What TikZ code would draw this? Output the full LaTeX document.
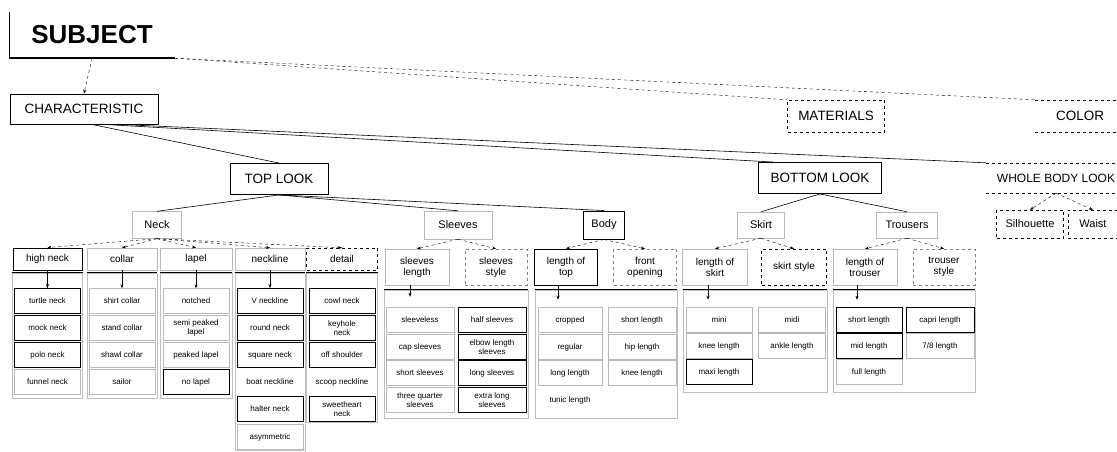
\documentclass[tikz,border=0pt]{standalone}
\usepackage{fontspec}
\setmainfont{Liberation Sans}
\usetikzlibrary{arrows.meta}

\tikzset{
  cadre/.style={draw, rectangle, line width=0.9pt, inner sep=1pt, align=center},
  clair/.style={draw=gray!55, rectangle, inner sep=1pt, align=center},
  tirets/.style={draw, dashed, rectangle, inner sep=1pt, align=center},
  titre/.style={font=\fontsize{13.5}{15}\selectfont},
  moyen/.style={font=\fontsize{11}{12}\selectfont},
  feat/.style={font=\fontsize{10}{11}\selectfont, minimum height=22pt},
  feat2/.style={font=\fontsize{10}{11}\selectfont, minimum height=36pt},
  leaf/.style={draw=gray!55, rectangle, inner sep=1pt, align=center,
    minimum width=66pt, minimum height=25pt, font=\fontsize{8}{9}\selectfont},
  leafdark/.style={leaf, draw=black, line width=0.8pt},
  leafnone/.style={leaf, draw=none},
  grp/.style={draw=gray!50, rectangle},
  lien/.style={semithick},
  dlien/.style={dashed, ->},
}

\begin{document}
\begin{tikzpicture}[x=1pt, y=-1pt, >={Stealth[length=4pt,width=3pt]}]
    \useasboundingbox (0,0) rectangle (1117,452);

    % Sujet
    \node[font=\fontsize{26}{28}\selectfont\bfseries, minimum width=165pt, minimum height=46pt] (subject) at (92,35) {SUBJECT};
    \draw[line width=1.6pt] (subject.north west) -- (subject.south west) -- (subject.south east);

    % Caracteristique, materiaux, couleur
    \node[cadre, titre, minimum width=148pt, minimum height=30pt] (charac) at (84,109) {CHARACTERISTIC};
    \node[tirets, titre, minimum width=97pt, minimum height=32pt] (materials) at (836,116) {MATERIALS};
    \node[titre, minimum width=90pt, minimum height=32pt] (color) at (1080,116) {COLOR};
    \draw[dashed] (color.north west) -- (color.north east) (color.south west) -- (color.south east);

    % Looks
    \node[cadre, titre, minimum width=98pt, minimum height=31pt] (toplook) at (279,179) {TOP LOOK};
    \node[cadre, titre, minimum width=123pt, minimum height=31pt] (bottomlook) at (820,178) {BOTTOM LOOK};
    \node[font=\fontsize{12}{13}\selectfont, minimum width=140pt, minimum height=30pt] (wholebody) at (1056,178) {WHOLE BODY LOOK};
    \draw[dashed] (wholebody.north west) -- (wholebody.north east) (wholebody.south west) -- (wholebody.south east);

    % Parties
    \node[clair, moyen, minimum width=49pt, minimum height=27pt] (neck) at (157,225) {Neck};
    \node[clair, moyen, minimum width=68pt, minimum height=28pt] (sleeves) at (458,225) {Sleeves};
    \node[cadre, moyen, minimum width=41pt, minimum height=28pt] (body) at (604,225) {Body};
    \node[clair, moyen, minimum width=47pt, minimum height=26pt] (skirt) at (761,225) {Skirt};
    \node[clair, moyen, minimum width=61pt, minimum height=26pt] (trousers) at (907,225) {Trousers};
    \node[tirets, moyen, minimum width=67pt, minimum height=28pt] (silhouette) at (1030,224) {Silhouette};
    \node[tirets, moyen, minimum width=50pt, minimum height=28pt] (waist) at (1093,224) {Waist};

    % Attributs du col
    \node[cadre, feat, minimum width=69pt] (highneck) at (47.5,259) {high neck};
    \node[clair, feat, minimum width=70pt] (collar) at (122,259) {collar};
    \node[clair, feat, minimum width=72pt] (lapel) at (196,259) {lapel};
    \node[clair, feat, minimum width=70pt] (neckline) at (270,259) {neckline};
    \node[tirets, feat, minimum width=71pt] (detail) at (342,259) {detail};

    % Attributs manches, corps, jupe, pantalon
    \node[clair, feat2, minimum width=64pt] (sleeveslen) at (417,267) {sleeves\\length};
    \node[tirets, draw=gray, feat2, minimum width=62pt] (sleevesstyle) at (496,267) {sleeves\\style};
    \node[cadre, feat2, minimum width=63pt] (lengthtop) at (566,267) {length of\\top};
    \node[tirets, draw=gray, feat2, minimum width=63pt] (frontopen) at (645,267) {front\\opening};
    \node[clair, feat2, minimum width=65pt] (lengthskirt) at (715,267) {length of\\skirt};
    \node[tirets, feat2, minimum width=65pt] (skirtstyle) at (794,267) {skirt style};
    \node[clair, feat2, minimum width=64pt] (lengthtrouser) at (865,267) {length of\\trouser};
    \node[tirets, draw=gray, feat2, minimum width=62pt] (trouserstyle) at (944,267) {trouser\\style};

    % Groupes
    \node[grp, minimum width=70pt, minimum height=125pt] (hngrp) at (47.5,335.5) {};
    \node[grp, minimum width=70pt, minimum height=125pt] (colgrp) at (122,335.5) {};
    \node[grp, minimum width=72pt, minimum height=125pt] (lapgrp) at (196,335.5) {};
    \node[grp, minimum width=70pt, minimum height=177pt] (nlgrp) at (270,361.5) {};
    \node[grp, minimum width=71pt, minimum height=149pt] (dtgrp) at (342,347.5) {};
    \node[grp, minimum width=144pt, minimum height=128pt] (slgrp) at (456,354) {};
    \node[grp, minimum width=142pt, minimum height=128pt] (ltgrp) at (606,354) {};
    \node[grp, minimum width=144pt, minimum height=102pt] (skgrp) at (755,341) {};
    \node[grp, minimum width=142pt, minimum height=102pt] (trgrp) at (904,341) {};
    \foreach \g in {hngrp, colgrp, lapgrp, nlgrp, dtgrp, slgrp, ltgrp, skgrp, trgrp}
        \draw[line width=1.3pt] (\g.north west) -- (\g.north east);

    % Valeurs : high neck
    \node[leafdark] (hn1) at (47.5,301) {turtle neck};
    \node[leafdark] (hn2) at (47.5,328) {mock neck};
    \node[leafdark] (hn3) at (47.5,355) {polo neck};
    \node[leaf] (hn4) at (47.5,382) {funnel neck};

    % Valeurs : collar
    \node[leaf] (col1) at (122,301) {shirt collar};
    \node[leaf] (col2) at (122,328) {stand collar};
    \node[leaf] (col3) at (122,355) {shawl collar};
    \node[leaf] (col4) at (122,382) {sailor};

    % Valeurs : lapel
    \node[leaf] (lap1) at (196,301) {notched};
    \node[leaf] (lap2) at (196,328) {semi peaked\\lapel};
    \node[leaf] (lap3) at (196,355) {peaked lapel};
    \node[leafdark] (lap4) at (196,382) {no lapel};

    % Valeurs : neckline et detail
    \node[leafdark] (nl1) at (270,301) {V neckline};
    \node[leafdark] (nl2) at (270,328) {round neck};
    \node[leafdark] (nl3) at (270,355) {square neck};
    \node[leafnone] (nl4) at (270,382) {boat neckline};
    \node[leafdark] (nl5) at (270,409) {halter neck};
    \node[leaf] (nl6) at (270,437) {asymmetric};
    \node[leafdark] (dt1) at (342,301) {cowl neck};
    \node[leafdark] (dt2) at (342,328) {keyhole\\neck};
    \node[leafdark] (dt3) at (342,355) {off shoulder};
    \node[leafnone] (dt4) at (342,382) {scoop neckline};
    \node[leafdark] (dt5) at (342,409) {sweetheart\\neck};

    % Valeurs : manches
    \node[leaf, minimum width=68pt] (sl1) at (420,320) {sleeveless};
    \node[leaf, minimum width=68pt] (sl2) at (420,347) {cap sleeves};
    \node[leaf, minimum width=68pt] (sl3) at (420,373) {short sleeves};
    \node[leaf, minimum width=68pt] (sl4) at (420,400) {three quarter\\sleeves};
    \node[leafdark, minimum width=68pt] (sr1) at (492,320) {half sleeves};
    \node[leafdark, minimum width=68pt] (sr2) at (492,347) {elbow length\\sleeves};
    \node[leafdark, minimum width=68pt] (sr3) at (492,373) {long sleeves};
    \node[leafdark, minimum width=68pt] (sr4) at (492,400) {extra long\\sleeves};

    % Valeurs : longueur du haut
    \node[leaf, minimum width=64pt] (lt1) at (570,320) {cropped};
    \node[leaf, minimum width=64pt] (lt2) at (570,347) {regular};
    \node[leaf, minimum width=64pt] (lt3) at (570,373) {long length};
    \node[leafnone, minimum width=64pt] (lt4) at (570,400) {tunic length};
    \node[leaf, minimum width=68pt] (lr1) at (642,320) {short length};
    \node[leaf, minimum width=68pt] (lr2) at (642,347) {hip length};
    \node[leaf, minimum width=68pt] (lr3) at (642,373) {knee length};

    % Valeurs : jupe
    \node[leaf] (sk1) at (719,320) {mini};
    \node[leaf] (sk2) at (719,346) {knee length};
    \node[leafdark] (sk3) at (719,372) {maxi length};
    \node[leaf, minimum width=67pt] (sk4) at (792,320) {midi};
    \node[leaf, minimum width=67pt] (sk5) at (792,346) {ankle length};

    % Valeurs : pantalon
    \node[leafdark] (tr1) at (869,320) {short length};
    \node[leafdark] (tr2) at (869,346) {mid length};
    \node[leaf] (tr3) at (869,372) {full length};
    \node[leafdark, minimum width=68pt] (tr4) at (940,320) {capri length};
    \node[leaf, minimum width=68pt] (tr5) at (940,346) {7/8 length};

    % Relations
    \draw[dlien] (subject.south) -- (charac.north);
    \draw[dashed] (subject.south east) -- (materials.north west);
    \draw[dashed] (subject.south east) -- (color.north west);
    \draw[lien] ([xshift=8pt]charac.south) -- (toplook.north);
    \draw[lien] ([xshift=20pt]charac.south) -- ([xshift=15pt]bottomlook.north west);
    \draw[lien] ([xshift=35pt]charac.south) -- (wholebody.north west);
    \draw[lien] (toplook.south) -- (neck.north);
    \draw[lien] (toplook.south) -- (sleeves.north);
    \draw[lien] (toplook.south) -- (body.north);
    \draw[lien] (bottomlook.south) -- (skirt.north);
    \draw[lien] (bottomlook.south) -- (trousers.north);
    \draw[dlien] (wholebody.south) -- (silhouette.north);
    \draw[dlien] (wholebody.south) -- (waist.north);
    \draw[dlien] (neck.south) -- (highneck.north);
    \draw[dlien] (neck.south) -- (collar.north);
    \draw[dlien] (neck.south) -- (lapel.north);
    \draw[dlien] (neck.south) -- (neckline.north);
    \draw[dlien] (neck.south) -- (detail.north);
    \draw[dlien] (sleeves.south) -- (sleeveslen.north);
    \draw[dlien] (sleeves.south) -- (sleevesstyle.north);
    \draw[dlien] (body.south) -- (lengthtop.north);
    \draw[dlien] (body.south) -- (frontopen.north);
    \draw[dlien] (skirt.south) -- (lengthskirt.north);
    \draw[dlien] (skirt.south) -- (skirtstyle.north);
    \draw[dlien] (trousers.south) -- (lengthtrouser.north);
    \draw[dlien] (trousers.south) -- (trouserstyle.north);
    \draw[->] (highneck.south) -- (hn1.north);
    \draw[->] (collar.south) -- (col1.north);
    \draw[->] (lapel.south) -- (lap1.north);
    \draw[->] (neckline.south) -- (nl1.north);
    \draw[->, thick, shorten >=-7pt] ([xshift=-7pt]sleeveslen.south) -- ([xshift=-7pt]sleeveslen.south |- slgrp.north);
    \draw[->, thick, shorten >=-10pt] ([xshift=-8pt]lengthtop.south) -- ([xshift=-8pt]lengthtop.south |- ltgrp.north);
    \draw[->, thick, shorten >=-10pt] ([xshift=-7pt]lengthskirt.south) -- ([xshift=-7pt]lengthskirt.south |- skgrp.north);
    \draw[->, shorten >=-10pt] ([xshift=-8pt]lengthtrouser.south) -- ([xshift=-8pt]lengthtrouser.south |- trgrp.north);

\end{tikzpicture}
\end{document}
